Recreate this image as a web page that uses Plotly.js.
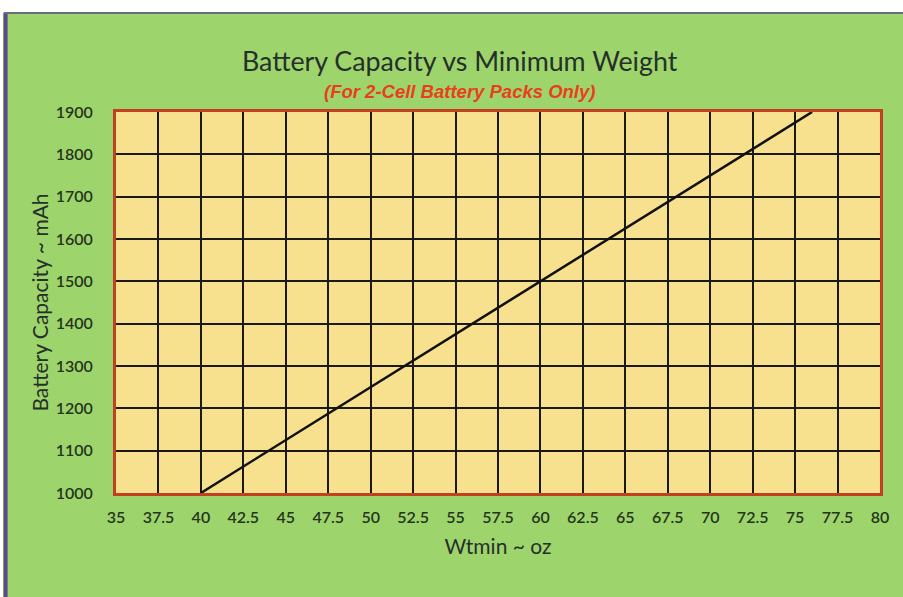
<!DOCTYPE html>
<html>
<head>
<meta charset="utf-8">
<script src="https://cdn.plot.ly/plotly-3.0.1.min.js"></script>
<style>html,body{margin:0;padding:0;}#chart{width:903px;height:597px;}</style>
</head>
<body>
<div id="chart"></div>
<script>
const weightOz = [40, 76];
const capacityMah = [1000, 1900];
const xTickVals = [35, 37.5, 40, 42.5, 45, 47.5, 50, 52.5, 55, 57.5, 60, 62.5, 65, 67.5, 70, 72.5, 75, 77.5, 80];
const xTickText = ["35", "37.5", "40", "42.5", "45", "47.5", "50", "52.5", "55", "57.5", "60", "62.5", "65", "67.5", "70", "72.5", "75", "77.5", "80"];
const yTickVals = [1000, 1100, 1200, 1300, 1400, 1500, 1600, 1700, 1800, 1900];

const fam = 'Lato, "Open Sans", sans-serif';
const tickFont = {family: fam, size: 16, color: '#24351c', weight: 600};

const trace = {
  x: weightOz, y: capacityMah, type: 'scatter', mode: 'lines',
  line: {color: '#111111', width: 2.5}, hoverinfo: 'skip'
};

const layout = {
  width: 903, height: 597,
  paper_bgcolor: '#9ed46c',
  plot_bgcolor: '#f7e08e',
  margin: {l: 116, r: 23, t: 112, b: 104},
  showlegend: false,
  title: {
    text: 'Battery Capacity vs Minimum Weight',
    font: {family: fam, size: 26.8, color: '#25302a'},
    x: 0.509, xanchor: 'center', y: 0.896, yanchor: 'middle'
  },
  xaxis: {
    range: [35, 80], tickvals: xTickVals, ticktext: xTickText,
    showgrid: true, gridcolor: '#1a1a1a', gridwidth: 2,
    showline: true, linecolor: '#c0401f', linewidth: 3, mirror: true,
    ticks: 'outside', ticklen: 8, tickcolor: 'rgba(0,0,0,0)',
    tickfont: tickFont, zeroline: false, fixedrange: true,
    title: {text: 'Wtmin ~ oz', font: {family: fam, size: 21, color: '#25302a'}, standoff: 15}
  },
  yaxis: {
    range: [1000, 1900], tickvals: yTickVals,
    showgrid: true, gridcolor: '#1a1a1a', gridwidth: 2,
    showline: true, linecolor: '#c0401f', linewidth: 3, mirror: true,
    ticks: 'outside', ticklen: 17, tickcolor: 'rgba(0,0,0,0)',
    tickfont: tickFont, zeroline: false, fixedrange: true,
    title: {text: 'Battery Capacity ~ mAh', font: {family: fam, size: 21, color: '#25302a'}, standoff: 2}
  },
  annotations: [{
    text: '<b><i>(For 2-Cell Battery Packs Only)</i></b>',
    xref: 'paper', yref: 'paper', x: 0.450, y: 1.0525, xanchor: 'center', yanchor: 'middle',
    showarrow: false, font: {family: '"Liberation Sans", Arial, sans-serif', size: 18.5, color: '#e8401c'}
  }],
  shapes: [
    {type: 'rect', xref: 'paper', yref: 'paper', x0: -0.2, x1: 1.1, y0: 1.26, y1: 1.4, fillcolor: '#ffffff', line: {width: 0}, layer: 'below'},
    {type: 'rect', xref: 'paper', yref: 'paper', x0: -0.2, x1: -0.148, y0: -0.3, y1: 1.4, fillcolor: '#ffffff', line: {width: 0}, layer: 'below'},
    {type: 'line', xref: 'paper', yref: 'paper', x0: -0.1445, x1: -0.1445, y0: -0.3, y1: 1.26, line: {color: '#5a4a8a', width: 4}},
    {type: 'line', xref: 'paper', yref: 'paper', x0: -0.147, x1: 1.1, y0: 1.26, y1: 1.26, line: {color: '#6a6a80', width: 2}}
  ]
};

Plotly.newPlot('chart', [trace], layout, {displayModeBar: false, staticPlot: true});
</script>
</body>
</html>
